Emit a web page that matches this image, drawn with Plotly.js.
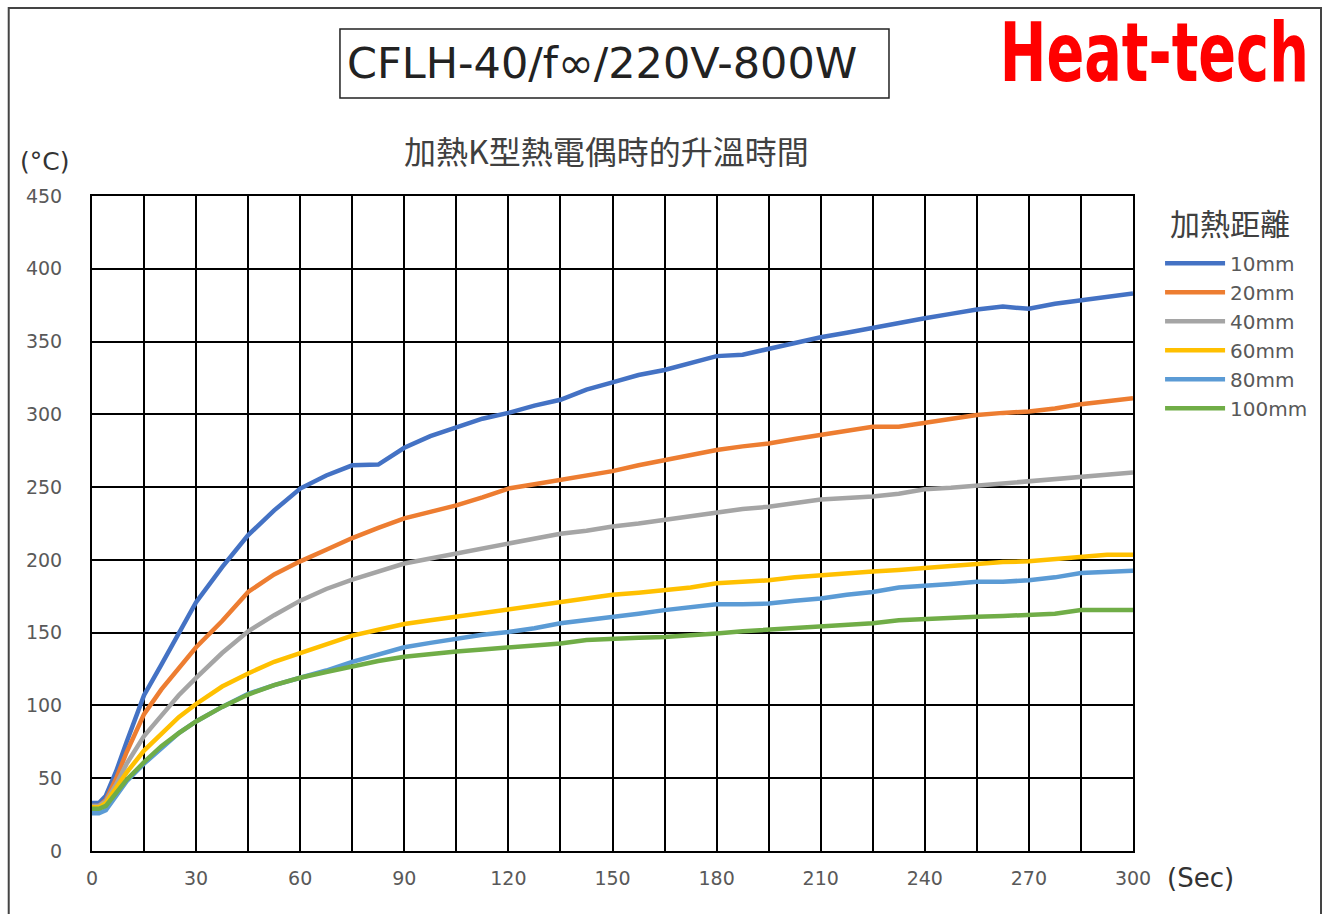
<!DOCTYPE html>
<html>
<head>
<meta charset="utf-8">
<script src="https://cdn.plot.ly/plotly-3.0.1.min.js"></script>
<style>
html,body{margin:0;padding:0;background:#fff;}
#chart{width:1327px;height:914px;}
</style>
</head>
<body>
<div id="chart"></div>
<script>
// ---- data ----
const seriesNames = ["10mm","20mm","40mm","60mm","80mm","100mm"];
const seriesColors = ["#4472C4","#ED7D31","#A5A5A5","#FFC000","#5B9BD5","#70AD47"];
const timeSec = [0,2,4,7,10,15,20,25,30,37.5,45,52.5,60,67.5,75,82.5,90,97.5,105,112.5,120,127.5,135,142.5,150,157.5,165,172.5,180,187.5,195,202.5,210,217.5,225,232.5,240,247.5,255,262.5,270,277.5,285,292.5,300];
const temp10mm = [33,33,38,55,75,107,128,150,171,195,217,234,249,258,265,265.5,277,285,291,297,301,306,310,317,322,327,330.5,335,340,341,345,349,353,356,359.5,363,366,369,372,374,372.5,376,378.5,381,383];
const temp20mm = [31,31,35,50,68,94,111,126,140,158,178,190,199,207,215,222,228.5,233,237.5,243,249,252,255,258,261,265,268.5,272,275.5,278,280,283,286,289,291.5,291.5,294,297,299.5,301,302,304,307,309,311];
const temp40mm = [31,31,34,46,60,79,93,107,119,136,151,162,172,180,186.5,192,197.5,201,204.5,208,211,215,218,220,223,225,227.5,230,233,235,236.5,239,241.5,242.5,243.5,245.5,248.5,249.5,251,252.5,253.5,255,257,258,260];
const temp60mm = [30,30,33,43,54,69,81,92,101,113,122,130,136,142,148,152,156,158.5,161,164,166.5,169,171,173.5,176,177.5,179.5,181,184,185,186,188,189.5,191,192,193,194.5,196,197,198.5,199,200.5,202.5,203.5,203.5];
const temp80mm = [26,26,28,38,48,60,71,81,89,99,108,114,119,124,130,135,140,143,146,148.5,150.5,153,156.5,158.5,161,163,165.5,167.5,169.5,169.5,170,172,173.5,176,178,181,182,183.5,185,185,186,188,191,192,192.5];
const temp100mm = [29,29,31,40,49,61,72,81,89,99,107.5,114,119,123,127,130.5,133.5,135.5,137,138.5,140,141.5,142.5,145,146,146.5,147,148,149.5,151,152,153,154,155,156.5,158.5,159.5,160,161,161.5,162,163,165.5,165.5,165.5];
const seriesValues = [temp10mm,temp20mm,temp40mm,temp60mm,temp80mm,temp100mm];
const xTickVals = [0,30,60,90,120,150,180,210,240,270,300];
const yTickVals = [0,50,100,150,200,250,300,350,400,450];

const chartTitle = "CFLH-40/f∞/220V-800W";
const subTitle = "加熱K型熱電偶時的升溫時間";
const brandText = "Heat-tech";
const legendTitle = "加熱距離";
const yUnit = "(°C)";
const xUnit = "(Sec)";

const traces = seriesNames.map((n,i)=>({
  type:"scatter", mode:"lines", name:n, legendgroup:"g"+i,
  x:timeSec, y:seriesValues[i],
  line:{color:seriesColors[i], width:4.5}
}));

const cjk = '"Noto Sans CJK TC","Noto Sans CJK SC",sans-serif';
const layout = {
  width:1327, height:914,
  paper_bgcolor:"#ffffff", plot_bgcolor:"#ffffff",
  margin:{l:92, r:194, t:196, b:63},
  showlegend:true,
  legend:{
    x:1.026, y:0.927, xanchor:"left", yanchor:"top",
    font:{family:"DejaVu Sans", size:20, color:"#595959"},
    itemwidth:60, tracegroupgap:0, bgcolor:"rgba(0,0,0,0)"
  },
  xaxis:{
    range:[0,300], tickvals:xTickVals, ticks:"", showgrid:true,
    gridcolor:"#000", gridwidth:2, zeroline:false,
    showline:true, mirror:true, linecolor:"#000", linewidth:2,
    minor:{dtick:15, tick0:0, showgrid:true, gridcolor:"#000", gridwidth:2, ticks:""},
    tickfont:{family:"DejaVu Sans", size:19, color:"#595959"},
    ticklabelstandoff:9, fixedrange:true
  },
  yaxis:{
    range:[0,450], tickvals:yTickVals, ticks:"", showgrid:true,
    gridcolor:"#000", gridwidth:2, zeroline:false,
    showline:true, mirror:true, linecolor:"#000", linewidth:2,
    tickfont:{family:"DejaVu Sans", size:19, color:"#595959"},
    ticklabelstandoff:24, fixedrange:true
  },
  shapes:[
    {type:"rect", xref:"paper", yref:"paper", x0:-0.080, x1:1.1806, y0:-0.2, y1:1.287,
     line:{color:"#444", width:2}, fillcolor:"rgba(0,0,0,0)", layer:"below"},
    {type:"rect", xref:"paper", yref:"paper", x0:0.2382, x1:0.7656, y0:1.1496, y1:1.2550,
     line:{color:"#222", width:1.5}, fillcolor:"rgba(0,0,0,0)"}
  ],
  annotations:[
    {text:chartTitle, xref:"paper", yref:"paper", x:0.4899, y:1.2031, showarrow:false,
     xanchor:"center", yanchor:"middle", font:{family:"DejaVu Sans", size:43, color:"#222"}},
    {text:subTitle, xref:"paper", yref:"paper", x:0.4947, y:1.0702, showarrow:false,
     xanchor:"center", yanchor:"middle", font:{family:cjk, size:32, color:"#404040"}},
    {text:legendTitle, xref:"paper", yref:"paper", x:1.0336, y:0.961, showarrow:false,
     xanchor:"left", yanchor:"middle", font:{family:cjk, size:30, color:"#404040"}},
    {text:brandText, xref:"paper", yref:"paper", x:1.0211, y:1.219, showarrow:false,
     xanchor:"center", yanchor:"middle", font:{family:"DejaVu Sans", size:82, color:"#ff0000", weight:"bold"}},
    {text:yUnit, xref:"paper", yref:"paper", x:-0.0461, y:1.0534, showarrow:false,
     xanchor:"center", yanchor:"middle", font:{family:"DejaVu Sans", size:25, color:"#333"}},
    {text:xUnit, xref:"paper", yref:"paper", x:1.0653, y:-0.0412, showarrow:false,
     xanchor:"center", yanchor:"middle", font:{family:"DejaVu Sans", size:26, color:"#333"}}
  ]
};
Plotly.newPlot("chart", traces, layout, {displayModeBar:false, staticPlot:true}).then(()=>{
  document.querySelectorAll('.annotation-text').forEach(t=>{
    if(t.textContent===brandText){
      const bb=t.getBBox();
      const cx=bb.x+bb.width/2;
      const prev=t.getAttribute('transform')||'';
      t.setAttribute('transform', prev+` translate(${cx},0) scale(0.68,1) translate(${-cx},0)`);
    }
  });
});
</script>
</body>
</html>
